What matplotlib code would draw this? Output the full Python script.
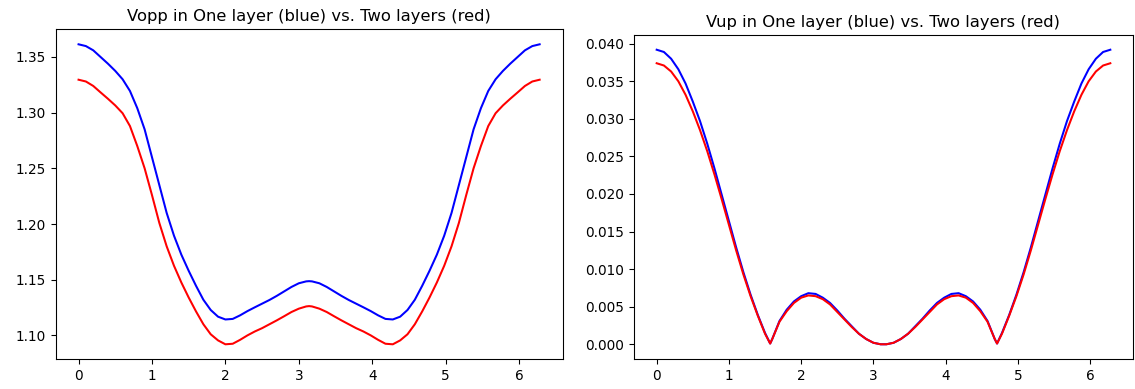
import matplotlib
matplotlib.use("Agg")
import matplotlib.pyplot as plt

# -------------------------
# Data (theta from 0 to 2*pi)
# -------------------------
theta_opp = [0.0, 0.1, 0.2, 0.3, 0.4, 0.5, 0.6, 0.7, 0.8, 0.9, 1.0, 1.1, 1.2,
             1.3, 1.4, 1.5, 1.6, 1.7, 1.8, 1.9, 2.0, 2.1, 2.2, 2.3, 2.4, 2.5,
             2.6, 2.7, 2.8, 2.9, 3.0, 3.1, 3.14,
             3.18, 3.28, 3.38, 3.48, 3.58, 3.68, 3.78, 3.88, 3.98, 4.08, 4.18,
             4.28, 4.38, 4.48, 4.58, 4.68, 4.78, 4.88, 4.98, 5.08, 5.18, 5.28,
             5.38, 5.48, 5.58, 5.68, 5.78, 5.88, 5.98, 6.08, 6.18, 6.28]

vopp_one = [1.3614, 1.3598, 1.3560, 1.3500, 1.3440, 1.3375, 1.3300, 1.3195,
            1.3040, 1.2850, 1.2600, 1.2350, 1.2100, 1.1895, 1.1725, 1.1580,
            1.1445, 1.1320, 1.1228, 1.1168, 1.1143, 1.1148, 1.1180, 1.1218,
            1.1252, 1.1285, 1.1318, 1.1355, 1.1395, 1.1435, 1.1468, 1.1485,
            1.1487,
            1.1485, 1.1468, 1.1435, 1.1395, 1.1355, 1.1318, 1.1285, 1.1252,
            1.1218, 1.1180, 1.1148, 1.1143, 1.1168, 1.1228, 1.1320, 1.1445,
            1.1580, 1.1725, 1.1895, 1.2100, 1.2350, 1.2600, 1.2850, 1.3040,
            1.3195, 1.3300, 1.3375, 1.3440, 1.3500, 1.3560, 1.3598, 1.3614]

vopp_two = [1.3296, 1.3280, 1.3240, 1.3182, 1.3125, 1.3065, 1.2995, 1.2880,
            1.2700, 1.2500, 1.2260, 1.2010, 1.1800, 1.1625, 1.1475, 1.1340,
            1.1215, 1.1100, 1.1010, 1.0955, 1.0920, 1.0925, 1.0960, 1.1000,
            1.1035, 1.1065, 1.1100, 1.1135, 1.1172, 1.1210, 1.1240, 1.1260,
            1.1263,
            1.1260, 1.1240, 1.1210, 1.1172, 1.1135, 1.1100, 1.1065, 1.1035,
            1.1000, 1.0960, 1.0925, 1.0920, 1.0955, 1.1010, 1.1100, 1.1215,
            1.1340, 1.1475, 1.1625, 1.1800, 1.2010, 1.2260, 1.2500, 1.2700,
            1.2880, 1.2995, 1.3065, 1.3125, 1.3182, 1.3240, 1.3280, 1.3296]

theta_up = [0.0, 0.1, 0.2, 0.3, 0.4, 0.5, 0.6, 0.7, 0.8, 0.9, 1.0, 1.1, 1.2,
            1.3, 1.4, 1.5, 1.571, 1.6, 1.7, 1.8, 1.9, 2.0, 2.1, 2.2, 2.3, 2.4,
            2.5, 2.6, 2.7, 2.8, 2.9, 3.0, 3.1, 3.14,
            3.18, 3.28, 3.38, 3.48, 3.58, 3.68, 3.78, 3.88, 3.98, 4.08, 4.18,
            4.28, 4.38, 4.48, 4.58, 4.68, 4.712, 4.78, 4.88, 4.98, 5.08, 5.18,
            5.28, 5.38, 5.48, 5.58, 5.68, 5.78, 5.88, 5.98, 6.08, 6.18, 6.28]

vup_one = [0.0392, 0.0389, 0.0380, 0.0366, 0.0347, 0.0323, 0.0297, 0.0267,
           0.0234, 0.0199, 0.0164, 0.0129, 0.0096, 0.0066, 0.0039, 0.0015,
           0.0001, 0.0007, 0.0031, 0.0046, 0.0057, 0.0064, 0.0068, 0.0067,
           0.0062, 0.0055, 0.0045, 0.0034, 0.0024, 0.0014, 0.0007, 0.0002,
           0.0000, 0.0000,
           0.0000, 0.0002, 0.0007, 0.0014, 0.0024, 0.0034, 0.0045, 0.0055,
           0.0062, 0.0067, 0.0068, 0.0064, 0.0057, 0.0046, 0.0031, 0.0007,
           0.0001, 0.0015, 0.0039, 0.0066, 0.0096, 0.0129, 0.0164, 0.0199,
           0.0234, 0.0267, 0.0297, 0.0323, 0.0347, 0.0366, 0.0380, 0.0389,
           0.0392]

vup_two = [0.0374, 0.0371, 0.0363, 0.0350, 0.0332, 0.0310, 0.0285, 0.0257,
           0.0226, 0.0193, 0.0159, 0.0125, 0.0093, 0.0064, 0.0038, 0.0014,
           0.0001, 0.0007, 0.0030, 0.0044, 0.0055, 0.0062, 0.0065, 0.0064,
           0.0060, 0.0053, 0.0043, 0.0033, 0.0023, 0.0014, 0.0007, 0.0002,
           0.0000, 0.0000,
           0.0000, 0.0002, 0.0007, 0.0014, 0.0023, 0.0033, 0.0043, 0.0053,
           0.0060, 0.0064, 0.0065, 0.0062, 0.0055, 0.0044, 0.0030, 0.0007,
           0.0001, 0.0014, 0.0038, 0.0064, 0.0093, 0.0125, 0.0159, 0.0193,
           0.0226, 0.0257, 0.0285, 0.0310, 0.0332, 0.0350, 0.0363, 0.0371,
           0.0374]

# -------------------------
# Figure
# -------------------------
W, H = 1135, 389
DPI = 98
fig = plt.figure(figsize=(W / DPI, H / DPI), dpi=DPI)

def px_axes(left, top, right, bottom):
    return fig.add_axes([left / W, 1 - bottom / H, (right - left) / W, (bottom - top) / H])

ax1 = px_axes(55.5, 29.3, 562.7, 359.3)
ax1.plot(theta_opp, vopp_one, color="b", lw=1.5)
ax1.plot(theta_opp, vopp_two, color="r", lw=1.5)
ax1.set_title("Vopp in One layer (blue) vs. Two layers (red)", fontsize=12)
ax1.set_yticks([1.10, 1.15, 1.20, 1.25, 1.30, 1.35])

ax2 = px_axes(634, 35, 1133, 359)
ax2.plot(theta_up, vup_one, color="b", lw=1.5)
ax2.plot(theta_up, vup_two, color="r", lw=1.5)
ax2.set_title("Vup in One layer (blue) vs. Two layers (red)", fontsize=12)

for ax in (ax1, ax2):
    ax.tick_params(labelsize=10)

plt.savefig("out.png", dpi=DPI)
